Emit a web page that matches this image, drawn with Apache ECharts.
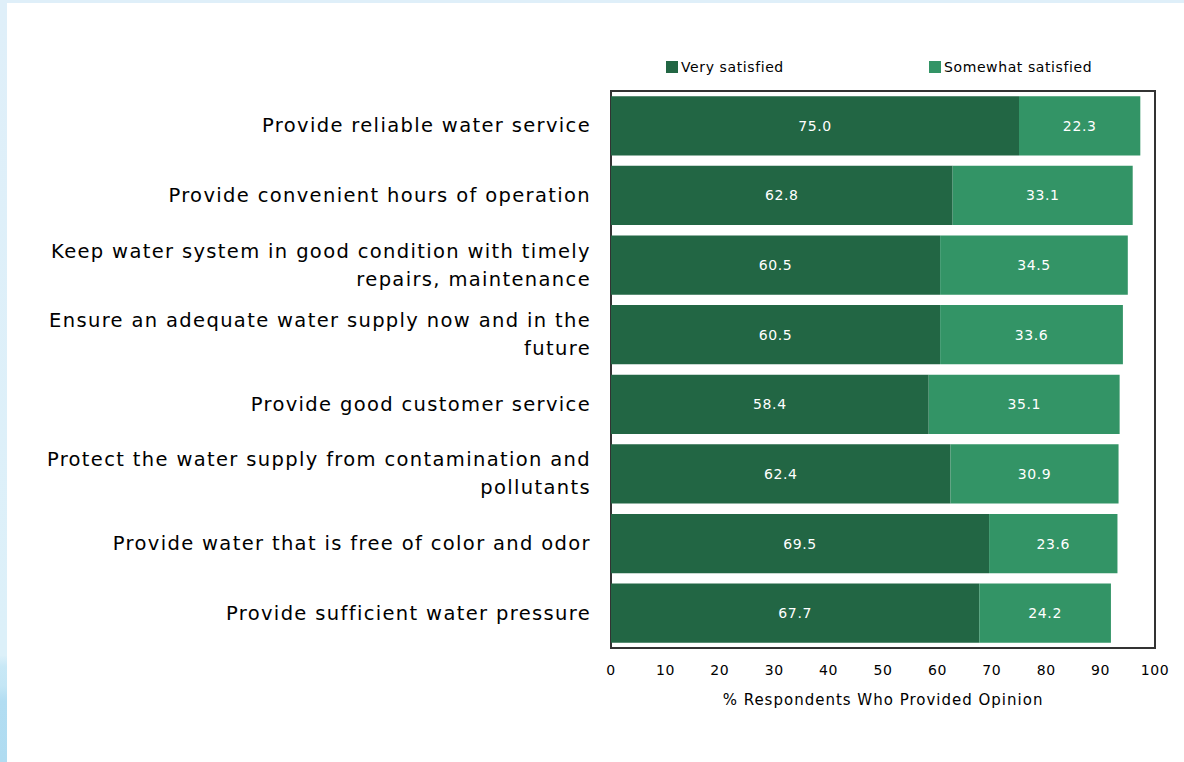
<!DOCTYPE html>
<html>
<head>
<meta charset="utf-8">
<style>
  html, body { margin: 0; padding: 0; background: #ffffff; }
  #chart { width: 1184px; height: 762px; }
</style>
<script src="https://cdn.jsdelivr.net/npm/echarts@6/dist/echarts.min.js"></script>
</head>
<body>
<div id="chart"></div>
<script>
// Service attributes, listed top to bottom
const categories = [
  'Provide reliable water service',
  'Provide convenient hours of operation',
  'Keep water system in good condition with timely\nrepairs, maintenance',
  'Ensure an adequate water supply now and in the\nfuture',
  'Provide good customer service',
  'Protect the water supply from contamination and\npollutants',
  'Provide water that is free of color and odor',
  'Provide sufficient water pressure'
];
const verySatisfied = [75.0, 62.8, 60.5, 60.5, 58.4, 62.4, 69.5, 67.7];
const somewhatSatisfied = [22.3, 33.1, 34.5, 33.6, 35.1, 30.9, 23.6, 24.2];
const seriesNames = ['Very satisfied', 'Somewhat satisfied'];
const axisTitle = '% Respondents Who Provided Opinion';

const FONT = 'DejaVu Sans';
const DARK = '#226644';
const LIGHT = '#339466';

const chart = echarts.init(document.getElementById('chart'), null, { renderer: 'svg' });

const labelStyle = {
  show: true,
  position: 'inside',
  color: '#ffffff',
  fontFamily: FONT,
  fontSize: 14,
  formatter: p => Number(p.value).toFixed(1)
};

chart.setOption({
  backgroundColor: '#ffffff',
  animation: false,
  graphic: [
    // pale blue frame strips along the top and left edges
    { type: 'rect', left: 0, top: 0, shape: { width: 1184, height: 3 }, style: { fill: '#dfeff9' }, silent: true },
    {
      type: 'rect', left: 0, top: 0, shape: { width: 7, height: 762 }, silent: true,
      style: {
        fill: new echarts.graphic.LinearGradient(0, 0, 0, 1, [
          { offset: 0, color: '#dfeff9' },
          { offset: 0.86, color: '#dcf0f9' },
          { offset: 0.875, color: '#c8e8f6' },
          { offset: 0.9, color: '#c4e6f5' },
          { offset: 0.92, color: '#b2ddf2' },
          { offset: 1, color: '#b0dcf1' }
        ])
      }
    }
  ],
  legend: [
    {
      data: [seriesNames[0]],
      left: 661, top: 55,
      icon: 'rect', itemWidth: 12, itemHeight: 12, itemGap: 4,
      textStyle: { fontFamily: FONT, fontSize: 14, color: '#000', padding: [0, 0, 0, -2] }
    },
    {
      data: [seriesNames[1]],
      left: 924, top: 55,
      icon: 'rect', itemWidth: 12, itemHeight: 12, itemGap: 4,
      textStyle: { fontFamily: FONT, fontSize: 14, color: '#000', padding: [0, 0, 0, -2] }
    }
  ],
  grid: {
    left: 611, right: 29, top: 91, bottom: 114,
    show: true,
    borderColor: '#333333',
    borderWidth: 2,
    backgroundColor: 'transparent'
  },
  xAxis: {
    type: 'value',
    min: 0, max: 100, interval: 10,
    splitLine: { show: false },
    axisLine: { show: false },
    axisTick: { show: false },
    axisLabel: { fontFamily: FONT, fontSize: 14, color: '#000', margin: 15 },
    name: axisTitle,
    nameLocation: 'middle',
    nameGap: 44,
    nameTextStyle: { fontFamily: FONT, fontSize: 15, color: '#000' }
  },
  yAxis: {
    type: 'category',
    data: categories,
    inverse: true,
    axisLine: { show: false },
    axisTick: { show: false },
    axisLabel: {
      fontFamily: FONT, fontSize: 19.5, color: '#000',
      margin: 20, lineHeight: 28, align: 'right'
    }
  },
  series: [
    {
      name: seriesNames[0], type: 'bar', stack: 'total',
      data: verySatisfied, barCategoryGap: '15%',
      itemStyle: { color: DARK },
      label: labelStyle
    },
    {
      name: seriesNames[1], type: 'bar', stack: 'total',
      data: somewhatSatisfied, barCategoryGap: '15%',
      itemStyle: { color: LIGHT },
      label: labelStyle
    }
  ]
});

// Loosen the tracking of the text a little, more for the larger labels
document.querySelectorAll('#chart svg text').forEach(t => {
  const fs = parseFloat(getComputedStyle(t).fontSize) || 12;
  const spacing = fs >= 18 ? 1.35 : fs >= 15 ? 1 : 0.6;
  t.style.letterSpacing = spacing + 'px';
});
</script>
</body>
</html>
